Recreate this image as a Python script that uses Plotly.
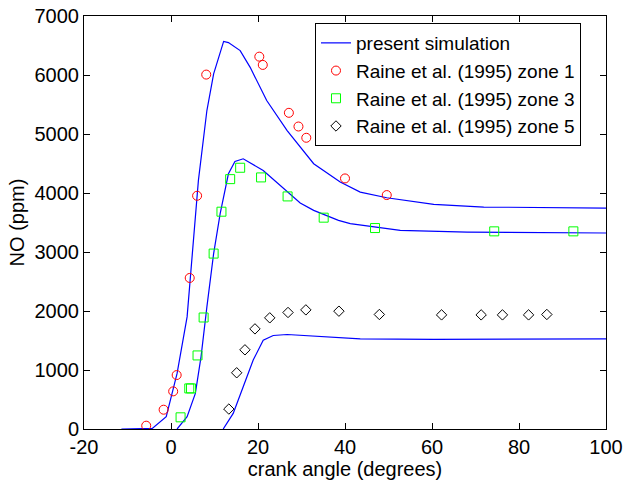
import plotly.graph_objects as go

# Simulation curves
sim1_x = [-11.4, -4.3, -1.1, 1.4, 3.7, 5.6, 6.3, 8.25, 9.8, 12.1, 13.2, 15.9, 18.2, 22.0, 26.7, 32.8, 38.9, 43.5, 49.6, 60.4, 71.9, 100]
sim1_y = [0, 10, 208, 942, 1900, 3700, 4213, 5398, 6019, 6570, 6550, 6413, 6130, 5567, 5059, 4496, 4185, 4016, 3920, 3807, 3762, 3745]

sim3_x = [1.4, 3.7, 5.6, 6.9, 8.25, 9.8, 11.3, 11.9, 13.2, 14.7, 16.6, 21.2, 26.7, 29.7, 32.8, 38.5, 41.2, 52.7, 68.1, 100]
sim3_y = [0, 208, 604, 1223, 2069, 2973, 3650, 3875, 4326, 4535, 4580, 4382, 4016, 3830, 3706, 3536, 3480, 3367, 3338, 3322]

sim5_x = [12.0, 14.3, 16.6, 18.9, 21.2, 23.5, 26.7, 32.8, 43.5, 60.4, 100]
sim5_y = [0, 265, 716, 1168, 1506, 1585, 1602, 1574, 1528, 1518, 1528]

# Raine et al. (1995) data
z1_x = [-5.7, -1.7, 0.5, 1.3, 4.3, 6.0, 8.1, 20.3, 21.1, 27.1, 29.3, 31.1, 40.0, 49.6]
z1_y = [56, 327, 638, 914, 2560, 3953, 6007, 6311, 6171, 5359, 5127, 4936, 4247, 3965]

z3_x = [2.2, 4.2, 4.6, 6.1, 7.5, 9.8, 11.6, 13.6, 15.9, 20.7, 26.8, 35.1, 46.9, 74.3, 92.5]
z3_y = [198, 688, 688, 1247, 1890, 2973, 3683, 4235, 4428, 4264, 3942, 3582, 3406, 3350, 3350]

z5_x = [13.3, 15.1, 17.0, 19.3, 22.7, 26.9, 31.0, 38.6, 47.9, 62.2, 71.3, 76.2, 82.2, 86.4]
z5_y = [338, 953, 1342, 1697, 1884, 1975, 2019, 1997, 1941, 1934, 1934, 1934, 1934, 1941]

x_ticks = [-20, 0, 20, 40, 60, 80, 100]
y_ticks = [0, 1000, 2000, 3000, 4000, 5000, 6000, 7000]

blue = "rgb(0,0,255)"
fig = go.Figure()
fig.add_trace(go.Scatter(x=sim1_x, y=sim1_y, mode="lines", line=dict(color=blue, width=1.2),
                         name="present simulation", legendgroup="sim"))
fig.add_trace(go.Scatter(x=sim3_x, y=sim3_y, mode="lines", line=dict(color=blue, width=1.2),
                         showlegend=False, legendgroup="sim"))
fig.add_trace(go.Scatter(x=sim5_x, y=sim5_y, mode="lines", line=dict(color=blue, width=1.2),
                         showlegend=False, legendgroup="sim"))
fig.add_trace(go.Scatter(x=z1_x, y=z1_y, mode="markers", name="Raine et al. (1995) zone 1",
                         marker=dict(symbol="circle-open", size=9, color="rgb(255,0,0)", line=dict(width=1))))
fig.add_trace(go.Scatter(x=z3_x, y=z3_y, mode="markers", name="Raine et al. (1995) zone 3",
                         marker=dict(symbol="square-open", size=9, color="rgb(0,255,0)", line=dict(width=1))))
fig.add_trace(go.Scatter(x=z5_x, y=z5_y, mode="markers", name="Raine et al. (1995) zone 5",
                         marker=dict(symbol="diamond-open", size=8, color="black", line=dict(width=1))))

font = dict(family="Liberation Sans, Arial, sans-serif", size=20, color="black")
legend_font = dict(family="Liberation Sans, Arial, sans-serif", size=19, color="black")
axis_common = dict(showline=True, linecolor="black", linewidth=1, mirror="ticks",
                   ticks="inside", ticklen=6, tickcolor="black", showgrid=False,
                   zeroline=False, tickfont=font, automargin=False,
                   ticklabeloverflow="allow")
fig.update_layout(
    width=625, height=481,
    margin=dict(l=84, r=19, t=16, b=52),
    paper_bgcolor="white", plot_bgcolor="white",
    font=font,
    xaxis=dict(range=[-20, 100], tickvals=x_ticks, ticktext=[str(v) for v in x_ticks],
               title=dict(text="crank angle (degrees)", font=font, standoff=0), **axis_common),
    yaxis=dict(range=[0, 7000], tickvals=y_ticks, ticktext=[str(v) for v in y_ticks],
               title=dict(text="NO (ppm)", font=font, standoff=4), **axis_common),
    legend=dict(x=0.4425, y=0.983, xanchor="left", yanchor="top", bgcolor="white",
                bordercolor="black", borderwidth=1, font=legend_font, tracegroupgap=0,
                itemwidth=30),
)
fig.write_html("out.html", config={"displayModeBar": False},
               post_script="document.body.style.margin='0';document.body.style.overflow='hidden';")
